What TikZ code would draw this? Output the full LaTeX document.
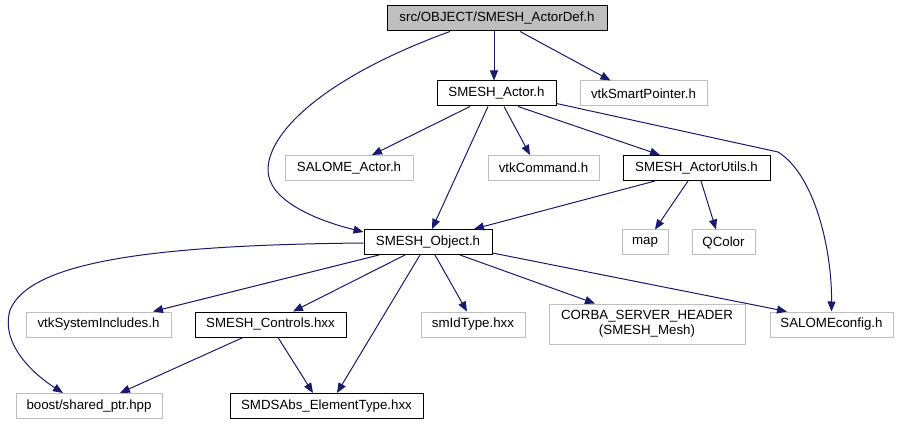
\documentclass[tikz,border=0pt]{standalone}
\usepackage{fontspec}
\setmainfont{Liberation Sans}
\usepackage{tikz}
\usetikzlibrary{arrows.meta, positioning, calc}
\definecolor{edgeblue}{RGB}{25,25,112}
\definecolor{boxgray}{RGB}{191,191,191}
\definecolor{rootfill}{RGB}{191,191,191}

\begin{document}
\begin{tikzpicture}[
				x=1pt, y=-1pt,
				hdr/.style={rectangle, draw=black, fill=white, line width=1pt, inner sep=0pt,
					minimum height=25pt, align=center, font=\fontsize{13.3}{15}\selectfont},
				ext/.style={hdr, draw=boxgray},
				root/.style={hdr, fill=rootfill},
				arrow/.style={-{Triangle[length=10pt, width=8pt]}, line width=1pt, color=edgeblue}
				]
				\useasboundingbox (0,0) rectangle (898,425);
				\node[root, minimum width=220pt] (def) at (497,18.5) {src/OBJECT/SMESH\_ActorDef.h};
				\node[hdr, minimum width=119pt] (actor) at (496.5,93.5) {SMESH\_Actor.h};
				\node[ext, minimum width=127pt] (vtksp) at (643.5,93.5) {vtkSmartPointer.h};
				\node[ext, minimum width=128pt] (salact) at (349,168) {SALOME\_Actor.h};
				\node[ext, minimum width=111pt] (vtkcmd) at (543.5,168) {vtkCommand.h};
				\node[hdr, minimum width=147pt] (utils) at (696.5,168) {SMESH\_ActorUtils.h};
				\node[hdr, minimum width=128pt] (object) at (428,242) {SMESH\_Object.h};
				\node[ext, minimum width=46pt] (map) at (645,242.5) {map};
				\node[ext, minimum width=63pt] (qcolor) at (723.5,242.5) {QColor};
				\node[ext, minimum width=145pt] (vtksys) at (98.5,324.5) {vtkSystemIncludes.h};
				\node[hdr, minimum width=151pt] (controls) at (270.5,324.5) {SMESH\_Controls.hxx};
				\node[ext, minimum width=104pt] (smid) at (473,324.5) {smIdType.hxx};
				\node[ext, minimum width=196pt, minimum height=40pt] (corba) at (647,324) {CORBA\_SERVER\_HEADER\\(SMESH\_Mesh)};
				\node[ext, minimum width=123pt] (salcfg) at (831.5,324.5) {SALOMEconfig.h};
				\node[ext, minimum width=146pt] (boost) at (89,406) {boost/shared\_ptr.hpp};
				\node[hdr, minimum width=193pt] (smds) at (326.5,406) {SMDSAbs\_ElementType.hxx};

				\draw[arrow] ([xshift=-3pt]def.south) -- ([xshift=-2.5pt]actor.north);
				\draw[arrow] ([xshift=23pt]def.south) -- ([xshift=-33pt]vtksp.north);
				\draw[arrow] ([xshift=-47pt]def.south) .. controls (330,75) and (268,130) .. (268,170)
					.. controls (268,200) and (315,220) .. ([yshift=-3pt]object.north west);
				\draw[arrow] ([xshift=-26.5pt]actor.south) -- ([xshift=23pt]salact.north);
				\draw[arrow] ([xshift=-8.5pt]actor.south) -- ([xshift=4pt]object.north);
				\draw[arrow] ([xshift=7.5pt]actor.south) -- ([xshift=-13.5pt]vtkcmd.north);
				\draw[arrow] ([xshift=21.5pt]actor.south) -- ([xshift=-36.5pt]utils.north);
				\draw[arrow] ([yshift=-10pt]actor.east) -- (778,152) .. controls (815,175) and (832,250) .. (salcfg.north);
				\draw[arrow] ([xshift=-41.5pt]utils.south) -- ([xshift=46pt]object.north);
				\draw[arrow] ([xshift=-8.5pt]utils.south) -- ([xshift=10pt]map.north);
				\draw[arrow] ([xshift=4.5pt]utils.south) -- ([xshift=-7.5pt]qcolor.north);
				\draw[arrow] ([yshift=-1pt]object.west) .. controls (150,245) and (30,262) .. (10,310)
					.. controls (0,345) and (35,375) .. ([xshift=-26pt]boost.north);
				\draw[arrow] ([xshift=-49pt]object.south) -- ([xshift=54.5pt]vtksys.north);
				\draw[arrow] ([xshift=-23pt]object.south) -- ([xshift=22.5pt]controls.north);
				\draw[arrow] ([xshift=-8pt]object.south) -- ([xshift=10.5pt]smds.north);
				\draw[arrow] ([xshift=7pt]object.south) -- ([xshift=-6pt]smid.north);
				\draw[arrow] ([xshift=32pt]object.south) -- ([xshift=-52pt]corba.north);
				\draw[arrow] ([yshift=2pt]object.south east) -- ([xshift=-44.5pt]salcfg.north);
				\draw[arrow] ([xshift=-27.5pt]controls.south) -- ([xshift=31pt]boost.north);
				\draw[arrow] ([xshift=7.5pt]controls.south) -- ([xshift=-13.5pt]smds.north);
			\end{tikzpicture}
\end{document}
